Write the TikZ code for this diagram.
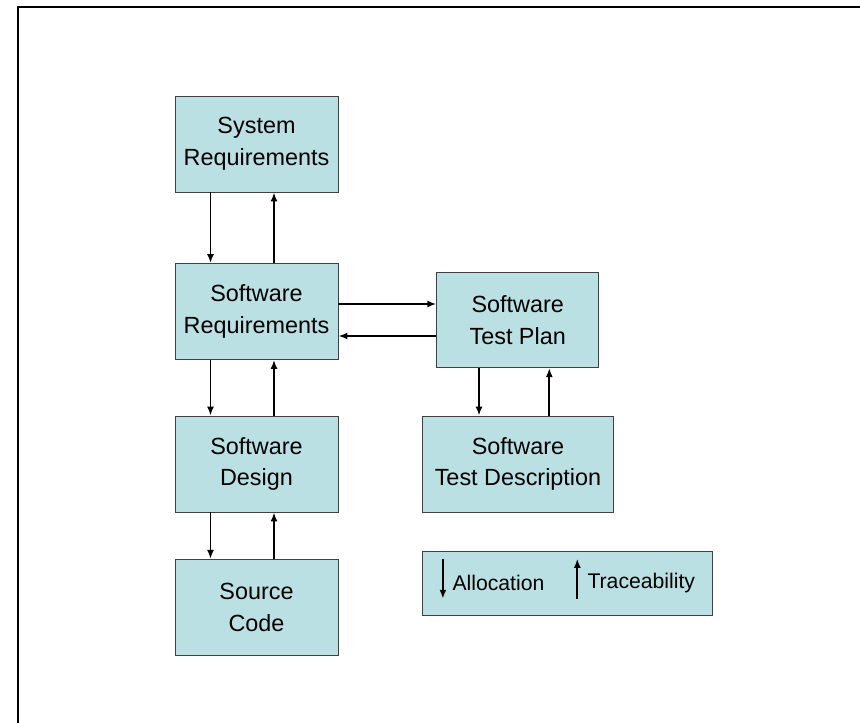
\documentclass[tikz,border=0pt]{standalone}
\usepackage{fontspec}
\setmainfont{Liberation Sans}
\usetikzlibrary{arrows.meta}
\definecolor{boxfill}{HTML}{BBE0E3}
\tikzset{
  docbox/.style={rectangle, draw=black!75, line width=0.8pt, fill=boxfill, align=center,
    inner sep=0pt, font=\fontsize{23.4}{31.7}\selectfont},
  link/.style={line width=1.8pt, -{Latex[length=9pt,width=7pt]}},
}
\begin{document}
\begin{tikzpicture}[x=1pt,y=-1pt]
\useasboundingbox (0,0) rectangle (860,723);
\draw[line width=2pt] (860,7) -- (18,7) -- (18,723);
\node[docbox, minimum width=163pt, minimum height=96pt] at (256.5,144) (sysreq) {System\\Requirements};
\node[docbox, minimum width=163pt, minimum height=96pt] at (256.5,311.5) (swreq) {Software\\Requirements};
\node[docbox, minimum width=163pt, minimum height=96pt] at (256.5,464) (swdes) {Software\\Design};
\node[docbox, minimum width=163pt, minimum height=96pt] at (256.5,607.3) (srccode) {Source\\Code};
\node[docbox, minimum width=162pt, minimum height=95pt] at (517.7,320.2) (testplan) {Software\\Test Plan};
\node[docbox, minimum width=190.6pt, minimum height=96pt] at (518,464) (testdesc) {Software\\Test Description};
\node[docbox, minimum width=289.6pt, minimum height=63.3pt] at (567.5,583.3) (legend) {};
% allocation goes down, traceability goes up
\draw[link] ([xshift=-46pt]sysreq.south) -- ([xshift=-46pt]swreq.north);
\draw[link] ([xshift=17.5pt]swreq.north) -- ([xshift=17.5pt]sysreq.south);
\draw[link] ([xshift=-46pt]swreq.south) -- ([xshift=-46pt]swdes.north);
\draw[link] ([xshift=17.5pt]swdes.north) -- ([xshift=17.5pt]swreq.south);
\draw[link] ([xshift=-46pt]swdes.south) -- ([xshift=-46pt]srccode.north);
\draw[link] ([xshift=17.5pt]srccode.north) -- ([xshift=17.5pt]swdes.south);
\draw[link] ([yshift=7.5pt]swreq.east) -- ([yshift=7.5pt]swreq.east -| testplan.west);
\draw[link] ([yshift=-24.5pt]swreq.east -| testplan.west) -- ([yshift=-24.5pt]swreq.east);
\draw[link] ([xshift=-38.7pt]testplan.south) -- ([xshift=-38.7pt]testplan.south |- testdesc.north);
\draw[link] ([xshift=31.6pt]testplan.south |- testdesc.north) -- ([xshift=31.6pt]testplan.south);
% legend
\coordinate (A1) at ([xshift=20.6pt,yshift=-7.5pt]legend.north west);
\coordinate (A2) at ([xshift=20.6pt,yshift=-47.5pt]legend.north west);
\coordinate (T1) at ([xshift=155pt,yshift=-47.5pt]legend.north west);
\coordinate (T2) at ([xshift=155pt,yshift=-7.5pt]legend.north west);
\draw[link] (A1) -- (A2);
\draw[link] (T1) -- (T2);
\node[anchor=west, inner sep=0pt, font=\fontsize{21.2}{25}\selectfont] at ([xshift=30pt]legend.west) (alloc) {Allocation};
\node[anchor=west, inner sep=0pt, font=\fontsize{21.2}{25}\selectfont] at ([xshift=165pt]legend.west) (trace) {Traceability};
\end{tikzpicture}
\end{document}
